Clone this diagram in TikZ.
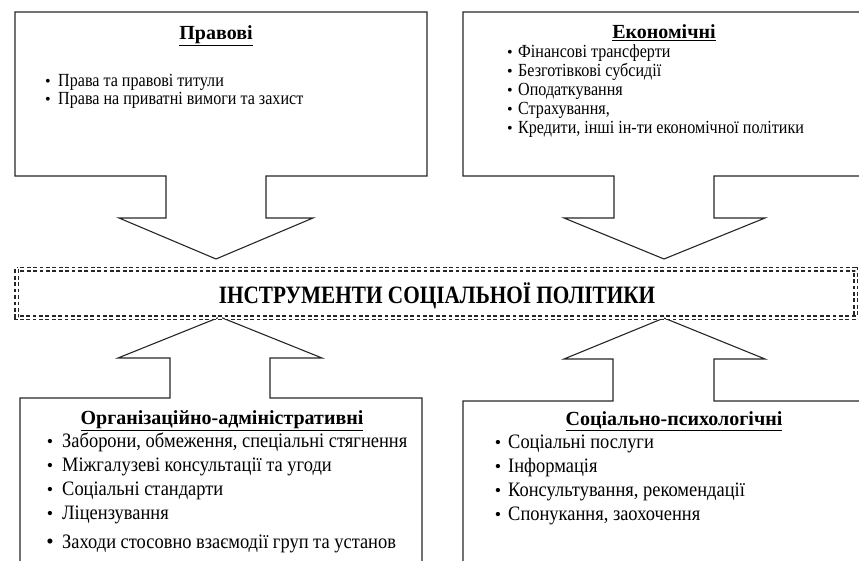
\documentclass[tikz,border=0pt]{standalone}
\usepackage{fontspec}
\setmainfont{Liberation Serif}
\newfontfamily\condA[FakeStretch=0.87]{Liberation Serif}
\newfontfamily\condB[FakeStretch=0.9]{Liberation Serif}
\newfontfamily\condM[FakeStretch=0.85]{Liberation Serif}
\begin{document}
\begin{tikzpicture}[x=1pt,y=-1pt,
  outline/.style={draw=black!85, line width=1.1pt, line join=miter},
  dashbox/.style={draw=black!85, line width=1.1pt, double, double distance=2.0pt, dash pattern=on 3.8pt off 2.6pt},
  ttl/.style={font=\fontsize{20}{24}\selectfont\bfseries, inner sep=0pt, anchor=base},
  maint/.style={font=\condM\fontsize{25}{30}\selectfont\bfseries, inner sep=0pt, anchor=base},
  itemA/.style={font=\condA\fontsize{18.5}{22}\selectfont, anchor=base west, inner sep=0pt},
  itemB/.style={font=\condB\fontsize{20.5}{24}\selectfont, anchor=base west, inner sep=0pt},
  bulA/.style={font=\fontsize{16}{19}\selectfont, anchor=base, inner sep=0pt},
  bulB/.style={font=\fontsize{18}{22}\selectfont, anchor=base, inner sep=0pt},
]
\useasboundingbox (0,0) rectangle (859,561);
\clip (0,0) rectangle (859,561);

% top-left callout (down arrow)
\draw[outline] (15,12) -- (427,12) -- (427,176) -- (266,176) -- (266,218) -- (313,218)
  -- (216,259) -- (119,218) -- (166,218) -- (166,176) -- (15,176) -- cycle;
% top-right callout (down arrow)
\draw[outline] (463,12) -- (880,12) -- (880,176) -- (714,176) -- (714,218) -- (765,218)
  -- (664,259) -- (564,218) -- (614,218) -- (614,176) -- (463,176) -- cycle;
% bottom-left callout (up arrow)
\draw[outline] (20,580) -- (20,398) -- (170,398) -- (170,358) -- (118,358) -- (220,317)
  -- (322,358) -- (270,358) -- (270,398) -- (422,398) -- (422,580);
% bottom-right callout (up arrow)
\draw[outline] (463,580) -- (463,401) -- (613,401) -- (613,359) -- (564,359) -- (664,318)
  -- (765,359) -- (714,359) -- (714,401) -- (880,401);

% central dashed box
\draw[dashbox] (16.5,269.5) rectangle (855.5,317.5);
\node[maint] (main) at (437,303.5) {ІНСТРУМЕНТИ СОЦІАЛЬНОЇ ПОЛІТИКИ};

% titles
\node[ttl] (tPr) at (216,39.5) {\underline{Правові}};
\node[ttl] (tEk) at (664,39) {\underline{Економічні}};
\node[ttl] (tOr) at (222,424.5) {\underline{Організаційно-адміністративні}};
\node[ttl] (tSo) at (674,425) {\underline{Соціально-психологічні}};

% lists
\foreach \yy/\t in {87/{Права та правові титули},105/{Права на приватні вимоги та захист}}{
  \node[bulA] (pb\yy) at (48,\yy) {\textbullet};
  \node[itemA] (pi\yy) at (58,\yy) {\t};
}
\foreach \yy/\t in {58/{Фінансові трансферти},77/{Безготівкові субсидії},96/{Оподаткування},115/{Страхування,},134/{Кредити, інші ін-ти економічної політики}}{
  \node[bulA] (eb\yy) at (510,\yy) {\textbullet};
  \node[itemA] (ei\yy) at (518,\yy) {\t};
}
\foreach \yy/\t in {447/{Заборони, обмеження, спеціальні стягнення},471/{Міжгалузеві консультації та угоди},495/{Соціальні стандарти},519/{Ліцензування}}{
  \node[bulB] (ob\yy) at (50,\yy) {\textbullet};
  \node[itemB] (oi\yy) at (62,\yy) {\t};
}
\node[bulB, font=\fontsize{21}{24}\selectfont] (ob548) at (50,548) {\textbullet};
\node[itemB] (oi548) at (62,548) {Заходи стосовно взаємодії груп та установ};
\foreach \yy/\t in {448/{Соціальні послуги},472/{Інформація},496/{Консультування, рекомендації},520/{Спонукання, заохочення}}{
  \node[bulB] (sb\yy) at (498,\yy) {\textbullet};
  \node[itemB] (si\yy) at (508,\yy) {\t};
}
\end{tikzpicture}
\end{document}
